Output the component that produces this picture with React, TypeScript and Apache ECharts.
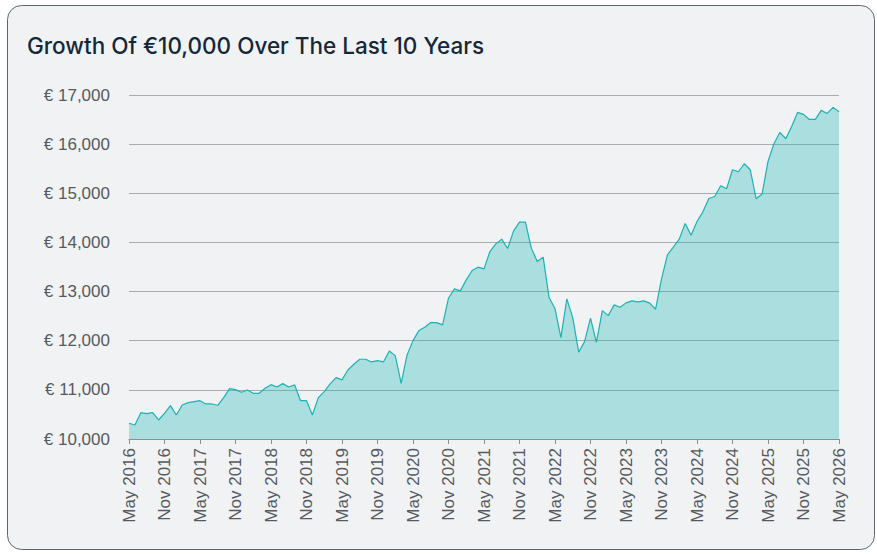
import React, { useEffect, useRef } from "react";
import * as echarts from "echarts";

const MONTHS = ["Jan", "Feb", "Mar", "Apr", "May", "Jun", "Jul", "Aug", "Sep", "Oct", "Nov", "Dec"];
const START_YEAR = 2016;
const START_MONTH = 4; // May

const values: number[] = [
  10320, 10285, 10536, 10516, 10536, 10387, 10523, 10680, 10489, 10692, 10740, 10760,
  10780, 10713, 10713, 10686, 10842, 11025, 11004, 10950, 10998, 10930, 10930, 11032,
  11106, 11059, 11127, 11059, 11100, 10780, 10780, 10489, 10842, 10963, 11120, 11250,
  11202, 11405, 11520, 11623, 11623, 11568, 11595, 11568, 11792, 11697, 11134, 11711,
  12002, 12206, 12274, 12369, 12369, 12322, 12865, 13055, 13014, 13238, 13428, 13497,
  13462, 13815, 13971, 14067, 13876, 14236, 14413, 14413, 13884, 13612, 13700, 12878,
  12654, 12063, 12851, 12471, 11766, 11982, 12458, 11966, 12613, 12511, 12729, 12682,
  12770, 12811, 12790, 12811, 12764, 12641, 13252, 13747, 13904, 14067, 14385, 14148,
  14426, 14623, 14894, 14935, 15153, 15092, 15479, 15438, 15601, 15479, 14888, 14984,
  15648, 16008, 16238, 16110, 16361, 16646, 16605, 16503, 16503, 16687, 16625, 16748,
  16660,
];

const categories: string[] = values.map((_, i) => {
  const m = START_MONTH + i;
  return `${MONTHS[m % 12]} ${START_YEAR + Math.floor(m / 12)}`;
});

const TITLE = "Growth Of €10,000 Over The Last 10 Years";

export default function App() {
  const ref = useRef<HTMLDivElement>(null);
  useEffect(() => {
    document.body.style.margin = "0";
    const chart = echarts.init(ref.current!, undefined, { renderer: "svg" });
    chart.setOption({
      animation: false,
      backgroundColor: "#ffffff",
      graphic: [
        {
          type: "rect",
          z: -10,
          silent: true,
          shape: { x: 7.5, y: 5.5, width: 867, height: 544, r: 14 },
          style: { fill: "#f1f2f4", stroke: "#5c6670", lineWidth: 1 },
        },
      ],
      title: {
        text: TITLE,
        left: 22,
        top: 29,
        textStyle: {
          fontFamily: "Inter",
          fontSize: 22.5,
          fontWeight: 500,
          color: "#15283a",
        },
      },
      grid: { left: 129, right: 38, top: 95, bottom: 115 },
      xAxis: {
        type: "category",
        data: categories,
        boundaryGap: false,
        axisLine: { lineStyle: { color: "#8a8f94", width: 1 } },
        axisTick: {
          show: true,
          interval: 5,
          length: 5,
          lineStyle: { color: "#8a8f94" },
        },
        axisLabel: {
          interval: 5,
          rotate: 90,
          margin: 9,
          fontFamily: "Liberation Sans",
          fontSize: 17,
          color: "#555a5f",
        },
        splitLine: { show: false },
      },
      yAxis: {
        type: "value",
        min: 10000,
        max: 17000,
        interval: 1000,
        axisLine: { show: false },
        axisTick: { show: false },
        axisLabel: {
          margin: 19,
          fontFamily: "Liberation Sans",
          fontSize: 17,
          color: "#555a5f",
          formatter: (v: number) => "€ " + v.toLocaleString("en-US"),
        },
        splitLine: { lineStyle: { color: "#a9abad", width: 1 } },
      },
      series: [
        {
          type: "line",
          data: values,
          symbol: "none",
          lineStyle: { color: "#1ab3b4", width: 1.2 },
          areaStyle: { color: "#1ab3b4", opacity: 0.32 },
        },
      ],
    });
    return () => chart.dispose();
  }, []);
  return <div ref={ref} style={{ width: 877, height: 554 }} />;
}
